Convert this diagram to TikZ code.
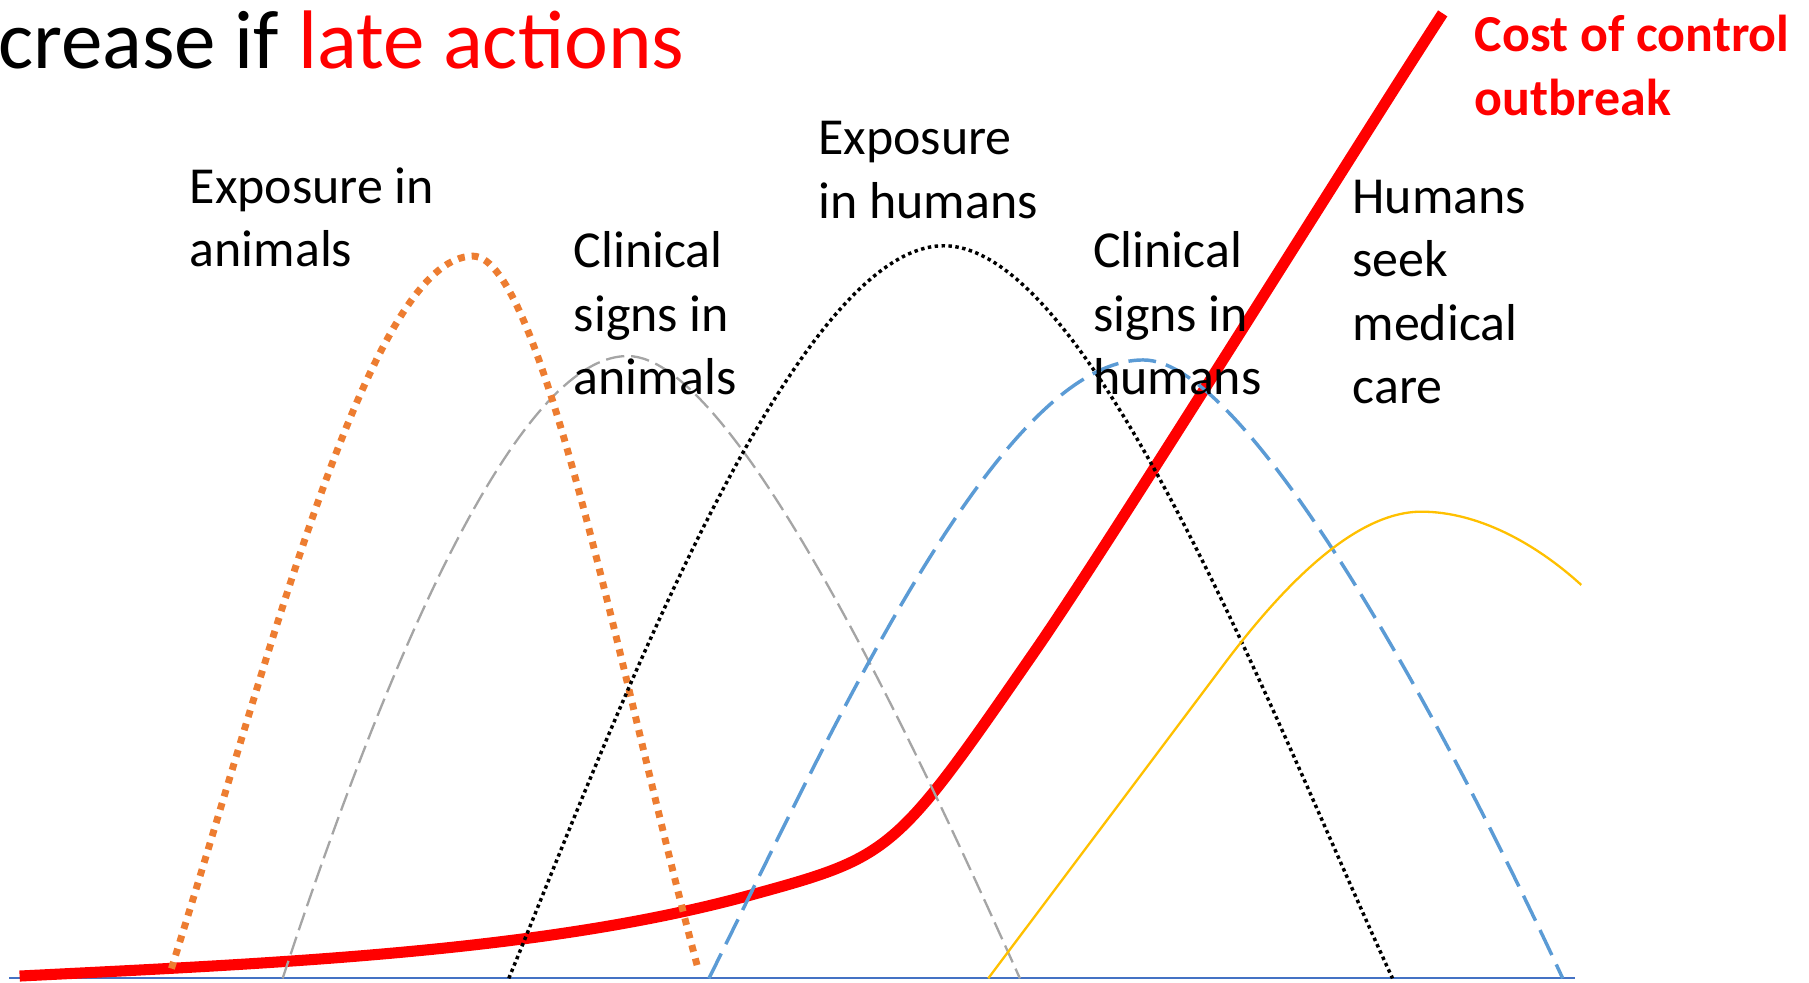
\documentclass[tikz,border=0pt]{standalone}
\usepackage{fontspec}
\setmainfont{Carlito}
\definecolor{orng}{HTML}{ED7D31}
\definecolor{gry}{HTML}{A5A5A5}
\definecolor{blu}{HTML}{5B9BD5}
\definecolor{ylw}{HTML}{FFC000}
\definecolor{axisblue}{HTML}{4472C4}
\definecolor{costred}{HTML}{FF0000}
\begin{document}
\begin{tikzpicture}[x=0.5pt,y=-0.5pt,line join=round,
  lbl/.style={anchor=base west,inner sep=0pt,align=left,font=\fontsize{22.5}{27.5}\selectfont},
  costcurve/.style={costred,line width=4.8pt,line cap=butt},
  expanimals/.style={orng,line width=3pt,dash pattern=on 3pt off 3pt},
  clinanimals/.style={gry,line width=1pt,dash pattern=on 8pt off 3pt},
  exphumans/.style={black,line width=1.5pt,dash pattern=on 1.5pt off 1.5pt},
  clinhumans/.style={blu,line width=1.5pt,dash pattern=on 12pt off 4.5pt},
  seekcare/.style={ylw,line width=1pt}]
\useasboundingbox (0,0) rectangle (1568,852);
% baseline
\coordinate (axL) at (8,848);
\coordinate (axR) at (1365,848);
\draw[axisblue,line width=0.75pt] (axL) -- (axR);
% cost of control
\draw[costcurve] (17,846) .. controls (237,835) and (470,825.3) .. (650,776)
  .. controls (774,742) and (775,741) .. (898,563)
  .. controls (966.2,464.2) and (1185,112) .. (1250.5,11.6);
% clinical signs in animals
\draw[clinanimals] (245,848) .. controls (307.6,658) and (434,308.6) .. (544,308.6)
  .. controls (639,308.6) and (802,665.6) .. (884,848);
% exposure in animals
\draw[expanimals] (148.6,839.5) .. controls (233,572.7) and (320,222) .. (410,222)
  .. controls (470,222) and (540.2,598) .. (605,839.5);
% exposure in humans
\draw[exphumans] (441,848) .. controls (517.6,663.2) and (683,213) .. (818,213)
  .. controls (948,213) and (1110.4,639.4) .. (1207,848);
% clinical signs in humans
\draw[clinhumans] (614.5,848) .. controls (721.3,632.9) and (866,312) .. (991,312)
  .. controls (1081,312) and (1249.5,621.3) .. (1354.5,848);
% humans seek medical care
\draw[seekcare] (856.6,848) -- (1060,577)
  .. controls (1108,513) and (1172,443.5) .. (1232,443.5)
  .. controls (1280,443.5) and (1330,470) .. (1370.6,507);
% texts
\node[anchor=base west,inner sep=0pt,font=\fontsize{36}{42}\selectfont] (title) at (-2,59) {crease if \textcolor{costred}{late actions}};
\node[lbl,text=costred,font=\bfseries\fontsize{22.5}{27.5}\selectfont] (cost) at (1278,100) {Cost of control\\outbreak};
\node[lbl] (expa) at (164,231) {Exposure in\\animals};
\node[lbl] (clina) at (497,342) {Clinical\\signs in\\animals};
\node[lbl] (exph) at (709,189) {Exposure\\in humans};
\node[lbl] (clinh) at (947,342) {Clinical\\signs in\\humans};
\node[lbl] (seek) at (1172,350) {Humans\\seek\\medical\\care};
\end{tikzpicture}
\end{document}
